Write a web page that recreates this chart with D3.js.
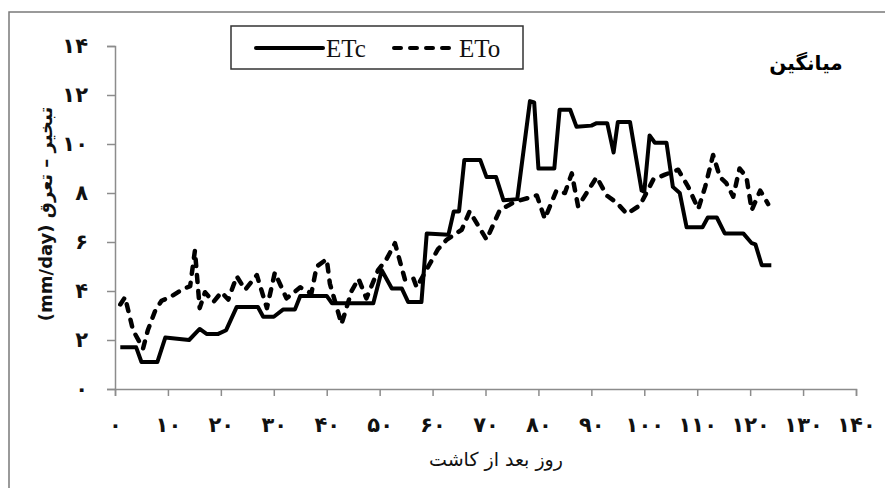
<!DOCTYPE html>
<html>
<head>
<meta charset="utf-8">
<script src="https://cdn.jsdelivr.net/npm/d3@7"></script>
<style>
  body {margin: 0; background: #fff;}
  svg {display: block;}
</style>
</head>
<body>
<svg id="chart" width="885" height="488"></svg>
<script>
// day after planting, ETc (mm/day)
const etcDays = [1, 4, 5, 8, 9.5, 14, 16, 17.3, 19.5, 21, 23, 27, 28, 30, 31.8, 34, 35, 40, 41, 48.8, 50.4, 52.3, 54.2, 55.4, 57.9,
  58.9, 63, 64, 65, 66, 69, 70.2, 72, 73.4, 76, 78.4, 79.2, 80, 83, 84, 86, 87.2, 90, 91, 93, 94.2, 95, 97.3, 99.5, 100,
  101, 102, 104.2, 105.4, 106.7, 108, 111, 112, 113.7, 115.2, 118.7, 120.3, 121, 122.2, 124];
const etcValues = [1.7, 1.7, 1.1, 1.1, 2.1, 2.0, 2.45, 2.25, 2.25, 2.4, 3.35, 3.35, 2.95, 2.95, 3.25, 3.25, 3.8, 3.8, 3.5, 3.5, 4.85, 4.1, 4.1, 3.55, 3.55,
  6.35, 6.3, 7.25, 7.25, 9.35, 9.35, 8.65, 8.65, 7.7, 7.75, 11.75, 11.7, 9.0, 9.0, 11.4, 11.4, 10.7, 10.75, 10.85, 10.85, 9.65, 10.9, 10.9, 8.1, 8.05,
  10.35, 10.05, 10.05, 8.25, 8.0, 6.6, 6.6, 7.0, 7.0, 6.35, 6.35, 5.95, 5.9, 5.05, 5.05];

// day after planting, ETo (mm/day)
const etoDays = [1, 1.9, 3.4, 5.3, 6.2, 7.6, 8.8, 10.4, 12.6, 14.2, 15.1, 16, 17, 18.6, 20.1, 21.4, 23, 24.6, 26.8, 28.7, 30.2,
  32.4, 35, 37.1, 38.1, 40, 40.6, 42.8, 44.7, 46, 47.5, 49.7, 51.3, 52.9, 54.8, 56.4, 57, 61, 62.7, 65.5, 67, 70.2, 72.7,
  75.2, 76.5, 79.7, 81.2, 83.4, 85, 86.3, 87.5, 89.1, 91, 92.9, 94.8, 96.7, 99.2, 101.7, 103.9, 106.4, 108.3, 110.2, 111.5,
  113, 114.3, 115.5, 116.8, 118, 119.3, 120.3, 121.9, 123.4];
const etoValues = [3.45, 3.75, 2.4, 1.65, 2.4, 3.2, 3.6, 3.75, 4.05, 4.2, 5.65, 3.3, 3.95, 3.55, 3.95, 3.65, 4.6, 4.05, 4.65, 3.3, 4.75,
  3.7, 4.15, 3.9, 5.0, 5.3, 4.3, 2.65, 4.0, 4.5, 3.7, 4.85, 5.3, 5.95, 4.45, 4.5, 4.15, 5.7, 6.1, 6.5, 7.25, 6.1, 7.3,
  7.6, 7.7, 7.9, 6.95, 8.1, 8.0, 8.8, 7.45, 8.0, 8.65, 7.9, 7.6, 7.15, 7.5, 8.55, 8.75, 8.95, 8.25, 7.35, 8.25,
  9.55, 8.65, 8.4, 7.85, 9.0, 8.65, 7.3, 8.1, 7.55];

const xTicks = [0, 10, 20, 30, 40, 50, 60, 70, 80, 90, 100, 110, 120, 130, 140];
const yTicks = [0, 2, 4, 6, 8, 10, 12, 14];
const seriesNames = ['ETc', 'ETo'];

const faDigits = (v)=>String(v).replace(/\d/g, (d)=>'۰۱۲۳۴۵۶۷۸۹'[d]);

const svg = d3.select('#chart');
const axisColor = '#8c8c8c';
const faFont = '"DejaVu Sans", "Noto Sans", sans-serif';

// outer frame (only top/left visible in the picture)
svg.append('rect')
    .attr('x', 9).attr('y', 12)
    .attr('width', 900).attr('height', 500)
    .style('fill', 'none').style('stroke', '#7a7a7a').style('stroke-width', 1.5);

const x = d3.scaleLinear().domain([0, 140]).range([115, 856]);
const y = d3.scaleLinear().domain([0, 14]).range([389, 46]);

const xAxis = svg.append('g')
    .attr('transform', `translate(0,${y(0)})`)
    .call(d3.axisBottom(x).tickValues(xTicks).tickSizeInner(7).tickSizeOuter(7).tickFormat(faDigits).tickPadding(21));

const yAxis = svg.append('g')
    .attr('transform', `translate(${x(0)},0)`)
    .call(d3.axisLeft(y).tickValues(yTicks).tickSizeInner(8).tickSizeOuter(8).tickFormat(faDigits).tickPadding(19));

[xAxis, yAxis].forEach((a)=>{
  a.selectAll('path,line').style('stroke', axisColor).style('stroke-width', 1.5);
  a.selectAll('text')
      .style('font-family', faFont)
      .style('font-weight', 'bold')
      .style('font-size', '21px')
      .style('fill', '#111');
});

const line = d3.line()
    .x((d)=>x(d[0]))
    .y((d)=>y(d[1]));

const etc = etcDays.map((d, i)=>[d, etcValues[i]]);
const eto = etoDays.map((d, i)=>[d, etoValues[i]]);

svg.append('path')
    .datum(eto)
    .attr('d', line)
    .style('fill', 'none')
    .style('stroke', '#000')
    .style('stroke-width', 4.5)
    .style('stroke-linecap', 'round')
    .style('stroke-linejoin', 'round')
    .style('stroke-dasharray', '7,9');

svg.append('path')
    .datum(etc)
    .attr('d', line)
    .style('fill', 'none')
    .style('stroke', '#000')
    .style('stroke-width', 4)
    .style('stroke-linejoin', 'round');

// legend
const legend = svg.append('g');
legend.append('rect')
    .attr('x', 231).attr('y', 26)
    .attr('width', 292).attr('height', 43)
    .style('fill', '#fff').style('stroke', '#333').style('stroke-width', 1.5);

const legendItems = [
  {name: seriesNames[0], x0: 256, x1: 323, dash: null},
  {name: seriesNames[1], x0: 394, x1: 456, dash: '7,9'},
];

legendItems.forEach((it)=>{
  legend.append('line')
      .attr('x1', it.x0).attr('x2', it.x1)
      .attr('y1', 48).attr('y2', 48)
      .style('stroke', '#000')
      .style('stroke-width', 4)
      .style('stroke-linecap', 'round')
      .style('stroke-dasharray', it.dash);
  legend.append('text')
      .attr('x', it.x1 + 3).attr('y', 57)
      .style('font-family', '"Liberation Serif", "Times New Roman", serif')
      .style('font-size', '25px')
      .style('fill', '#111')
      .text(it.name);
});

// title
svg.append('text')
    .attr('x', 806).attr('y', 70)
    .attr('text-anchor', 'middle')
    .style('font-family', faFont)
    .style('font-weight', 'bold')
    .style('font-size', '20px')
    .text('میانگین');

// axis titles
svg.append('text')
    .attr('x', 496).attr('y', 466)
    .attr('text-anchor', 'middle')
    .style('font-family', faFont)
    .style('font-size', '19px')
    .style('fill', '#111')
    .text('روز بعد از کاشت');

svg.append('text')
    .attr('transform', 'translate(52,214) rotate(-90)')
    .attr('text-anchor', 'middle')
    .attr('direction', 'rtl')
    .style('font-family', faFont)
    .style('font-weight', 'bold')
    .style('font-size', '18px')
    .style('fill', '#111')
    .text('تبخیر – تعرق (mm/day)');
</script>
</body>
</html>
